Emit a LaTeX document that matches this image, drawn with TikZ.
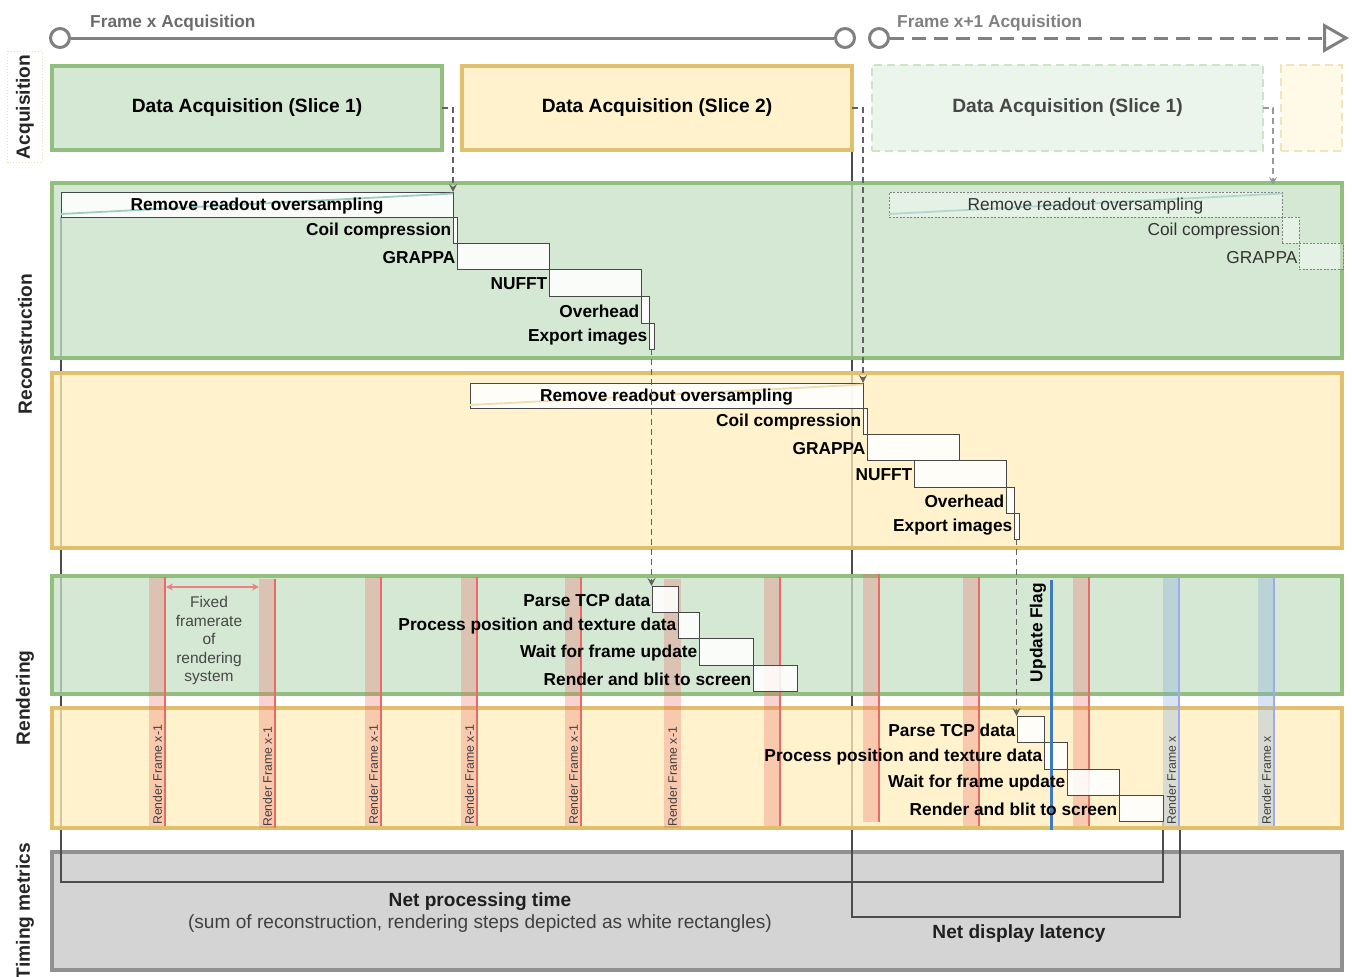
\documentclass[tikz,border=0pt]{standalone}
\usepackage{fontspec}
\setmainfont{Liberation Sans}
\usetikzlibrary{arrows.meta}
\pgfdeclarelayer{bottom}
\pgfdeclarelayer{lines}
\pgfdeclarelayer{boxes}
\pgfsetlayers{bottom,lines,boxes,main}
\definecolor{gfill}{HTML}{C7E0C6}
\definecolor{gdraw}{HTML}{93BF7E}
\definecolor{yfill}{HTML}{FFEEBB}
\definecolor{ydraw}{HTML}{E0C06C}
\definecolor{tfill}{HTML}{D4D4D4}
\definecolor{tdraw}{HTML}{909090}
\definecolor{tlgray}{HTML}{808080}
\definecolor{redl}{HTML}{EA6B66}
\definecolor{bluel}{HTML}{9DA8F8}
\definecolor{bluef}{HTML}{7EA6E0}
\definecolor{flagc}{HTML}{3D7BBF}
\definecolor{tealc}{HTML}{9FCDC3}
\definecolor{tanc}{HTML}{EFDDAE}
\definecolor{dtext}{HTML}{333333}
\newcommand\fntG{\fontsize{17.3}{20}\selectfont}
\newcommand\fntT{\fontsize{19.1}{22}\selectfont}
\newcommand\fntA{\fontsize{19.2}{22}\selectfont}
\newcommand\fntS{\fontsize{12.3}{14}\selectfont}
\newcommand\fntF{\fontsize{15.5}{18.5}\selectfont}
\newcommand\gtask[6][]{\node[task,#1,minimum width={#5-#3},minimum height={#6-#4}] (#2) at (#3,#4) {};}
\newcommand\glab[3][]{\node[glbl,anchor=east,#1] (#2-l) at (#2.west) {#3};}
\tikzset{
  lane/.style={anchor=north west, inner sep=0pt, outer sep=0pt, line width=3.5pt, fill opacity=0.75, text opacity=1},
  gl/.style={lane, draw=gdraw, fill=gfill},
  yl/.style={lane, draw=ydraw, fill=yfill},
  task/.style={anchor=north west, inner sep=0pt, outer sep=0pt, draw=black!72, line width=0.8pt, fill=white, fill opacity=0.88},
  ftask/.style={task, draw=black!50, dash pattern=on 2pt off 1.5pt, fill opacity=0.4},
  glbl/.style={font=\fntG\bfseries, inner sep=1.5pt, text=black, yshift=-1.5pt},
  flbl/.style={font=\fntG, inner sep=1.5pt, text=dtext, yshift=-1.5pt},
  side/.style={font=\fntA\bfseries, rotate=90, text=black!85},
  tcirc/.style={circle, draw=tlgray, line width=3pt, fill=white, minimum size=19pt, inner sep=0pt},
  tline/.style={draw=tlgray, line width=3pt},
  flow/.style={draw=black!62, line width=1.6pt, dash pattern=on 6pt off 4pt, -{Stealth[length=8pt,width=8pt,inset=3pt]}},
  bracket/.style={draw=black!70, line width=1.4pt},
  rbar/.style={anchor=north west, inner sep=0pt, outer sep=0pt, minimum width=17pt, fill opacity=0.3, draw=none},
  rline/.style={draw=redl, line width=2pt},
  bline/.style={draw=bluel, line width=2pt},
  rflbl/.style={font=\fntS, rotate=90, anchor=west, text=black!75, inner sep=1pt},
}
\begin{document}
\begin{tikzpicture}[x=1pt,y=-1pt]
\useasboundingbox (0,0) rectangle (1352,977);
% ---------------- timeline
\node[tcirc] (c1) at (60,38) {};
\node[tcirc] (c2) at (845,38) {};
\node[tcirc] (c3) at (879,38) {};
\coordinate (tend) at (1349,38);
\draw[tline] (c1) -- (c2);
\draw[tline, dash pattern=on 14pt off 8pt, -{Triangle[open, length=26pt, width=29pt, line width=3pt]}] (c3) -- (tend);
\node[font=\fntG\bfseries, text=black!58, anchor=west, inner sep=0pt] (fx) at (90,23.5) {Frame x Acquisition};
\node[font=\fntG\bfseries, text=black!50, anchor=west, inner sep=0pt] (fx1) at (897,23.5) {Frame x+1 Acquisition};
% ---------------- side labels
\node[side, draw=ydraw!50, dotted, line width=1pt, minimum width=105pt, minimum height=35pt] (sacq) at (25,107) {Acquisition};
\node[side] (srec) at (25,344) {Reconstruction};
\node[side] (sren) at (25,698) {Rendering};
\node[side] (stim) at (25,911) {Timing metrics};
% ---------------- lanes
\begin{pgfonlayer}{boxes}
\node[gl, minimum width=390pt, minimum height=84pt, font=\fntA\bfseries] (acq1) at (52,66) {Data Acquisition (Slice 1)};
\node[yl, minimum width=390pt, minimum height=84pt, font=\fntA\bfseries] (acq2) at (462,66) {Data Acquisition (Slice 2)};
\node[lane, line width=1.5pt, draw=gdraw!45, fill=gfill!45, dash pattern=on 8pt off 5pt, minimum width=391pt, minimum height=86pt, font=\fntA\bfseries, text=black!72] (acq3) at (872,65) {Data Acquisition (Slice 1)};
\node[lane, line width=1.5pt, draw=ydraw!45, fill=yfill!45, dash pattern=on 8pt off 5pt, minimum width=61pt, minimum height=86pt] (acq4) at (1281,65) {};
\node[gl, minimum width=1290pt, minimum height=175pt] (rec1) at (52,183) {};
\node[yl, minimum width=1290pt, minimum height=175pt] (rec2) at (52,373) {};
\node[gl, minimum width=1290pt, minimum height=118pt] (ren1) at (52,576) {};
\node[yl, minimum width=1290pt, minimum height=120pt] (ren2) at (52,708) {};
\end{pgfonlayer}
\begin{pgfonlayer}{bottom}
\node[lane, draw=tdraw, fill=tfill, fill opacity=1, minimum width=1290pt, minimum height=118pt] (tim) at (52,852) {};
\end{pgfonlayer}
% ---------------- render frame bars
\foreach \n/\x/\t/\b in {b1/149/577/826, b2/259/579/828, b3/365/577/826, b4/461/577/826, b5/565/577/826, b6/664/579/828, b7/764/577/826, b8/863/574/822, b9/963/577/826, b10/1073/577/826}
  {\node[rbar, fill=redl, minimum height={\b-\t}] (\n) at (\x,\t) {};}
\foreach \n in {b1,b2,b3,b4,b5,b7,b8,b9,b10}
  {\draw[rline] ([xshift=-1pt]\n.north east) -- ([xshift=-1pt]\n.south east);}
\foreach \n in {b1,b2,b3,b4,b5,b6}
  {\node[rflbl] (\n-t) at (\n.south) {Render Frame x-1};}
\foreach \n/\x in {bx1/1163, bx2/1258}
  {\node[rbar, fill=bluef, minimum height=249pt] (\n) at (\x,577) {};
   \draw[bline] ([xshift=-1pt]\n.north east) -- ([xshift=-1pt]\n.south east);
   \node[rflbl] (\n-t) at (\n.south) {Render Frame x};}
% fixed framerate
\draw[draw=redl!85, line width=1.3pt, {Stealth[length=7pt,width=7pt]}-{Stealth[length=7pt,width=7pt]}] ([yshift=-10pt]b1.north east) -- ([yshift=-8pt]b2.north west);
\node[font=\fntF, align=center, text=black!72] (ffr) at (209,640.5) {Fixed\\framerate\\of\\rendering\\system};
% ---------------- reconstruction slice 1
\gtask{r1a}{61}{192}{453}{217}
\gtask{r1b}{453}{217}{457}{243}
\gtask{r1c}{457}{243}{549}{269}
\gtask{r1d}{549}{269}{641}{296}
\gtask{r1e}{641}{296}{649}{323}
\gtask{r1f}{649}{323}{654}{349}
\draw[tealc, line width=1.8pt] ([yshift=3pt]r1a.south west) -- ([yshift=-1.5pt]r1a.north east);
\node[glbl] (r1a-l) at (r1a.center) {Remove readout oversampling};
\glab{r1b}{Coil compression}
\glab{r1c}{GRAPPA}
\glab{r1d}{NUFFT}
\glab{r1e}{Overhead}
\glab{r1f}{Export images}
% ---------------- reconstruction slice 2
\gtask{r2a}{470}{383}{863}{408}
\gtask{r2b}{863}{408}{867}{434}
\gtask{r2c}{867}{434}{959}{460}
\gtask{r2d}{914}{460}{1006}{487}
\gtask{r2e}{1006}{487}{1014}{513}
\gtask{r2f}{1014}{513}{1019}{539}
\draw[tanc, line width=1.8pt] ([yshift=3pt]r2a.south west) -- ([yshift=-1.5pt]r2a.north east);
\node[glbl] (r2a-l) at (r2a.center) {Remove readout oversampling};
\glab{r2b}{Coil compression}
\glab{r2c}{GRAPPA}
\glab{r2d}{NUFFT}
\glab{r2e}{Overhead}
\glab{r2f}{Export images}
% ---------------- reconstruction frame x+1 slice 1 (faded)
\gtask[ftask]{r5a}{889}{192}{1282}{217}
\gtask[ftask]{r5b}{1282}{217}{1299}{243}
\gtask[ftask]{r5c}{1299}{243}{1343}{269}
\draw[tealc!80, line width=1.8pt] ([yshift=3pt]r5a.south west) -- ([yshift=-1.5pt]r5a.north east);
\node[flbl] (r5a-l) at (r5a.center) {Remove readout oversampling};
\node[flbl, anchor=east] (r5b-l) at (r5b.west) {Coil compression};
\node[flbl, anchor=east] (r5c-l) at (r5c.west) {GRAPPA};
% ---------------- rendering slice 1
\gtask{r3a}{652}{586}{678}{612}
\gtask{r3b}{678}{612}{699}{638}
\gtask{r3c}{699}{638}{753}{665}
\gtask{r3d}{753}{665}{797}{691}
\glab{r3a}{Parse TCP data}
\glab{r3b}{Process position and texture data}
\glab{r3c}{Wait for frame update}
\glab{r3d}{Render and blit to screen}
% ---------------- rendering slice 2
\gtask{r4a}{1017}{716}{1044}{742}
\gtask{r4b}{1044}{742}{1067}{769}
\gtask{r4c}{1067}{769}{1119}{795}
\gtask{r4d}{1119}{795}{1163}{821}
\coordinate (uft) at (1051,580);
\coordinate (ufb) at (1051,830);
\draw[draw=flagc, line width=3pt] (uft) -- (ufb);
\glab{r4a}{Parse TCP data}
\glab{r4b}{Process position and texture data}
\glab{r4c}{Wait for frame update}
\glab{r4d}{Render and blit to screen}
\node[glbl, rotate=90, yshift=0pt] (uflbl) at (1038,631) {Update Flag};
% ---------------- data flow
\draw[flow] (acq1.east) -| (r1a.north east);
\draw[flow] (acq2.east) -| (r2a.north east);
\draw[flow, draw=black!40] (acq3.east) -| ([xshift=-9pt,yshift=7pt]r5a.north east);
\draw[flow] (r1f.south) -- (r1f.south |- r3a.north);
\draw[flow] (r2f.south) -- (r2f.south |- r4a.north);
% ---------------- timing metrics
\node[font=\fntT\bfseries, text=black!88] (npt) at (480,902) {Net processing time};
\node[font=\fntT, text=black!75] (nptsub) at (480,924) {(sum of reconstruction, rendering steps depicted as white rectangles)};
\node[font=\fntT\bfseries, text=black!88] (ndl) at (1019,934) {Net display latency};
\begin{pgfonlayer}{lines}
\coordinate (nptY) at (0,882);
\coordinate (ndlY) at (0,917);
\draw[bracket] (r1a.south west) |- (nptY -| r4d.south east) -- (r4d.south east);
\draw[bracket] (acq2.south east) |- (ndlY -| bx1.south east) -- (bx1.south east);
\end{pgfonlayer}
\end{tikzpicture}
\end{document}
